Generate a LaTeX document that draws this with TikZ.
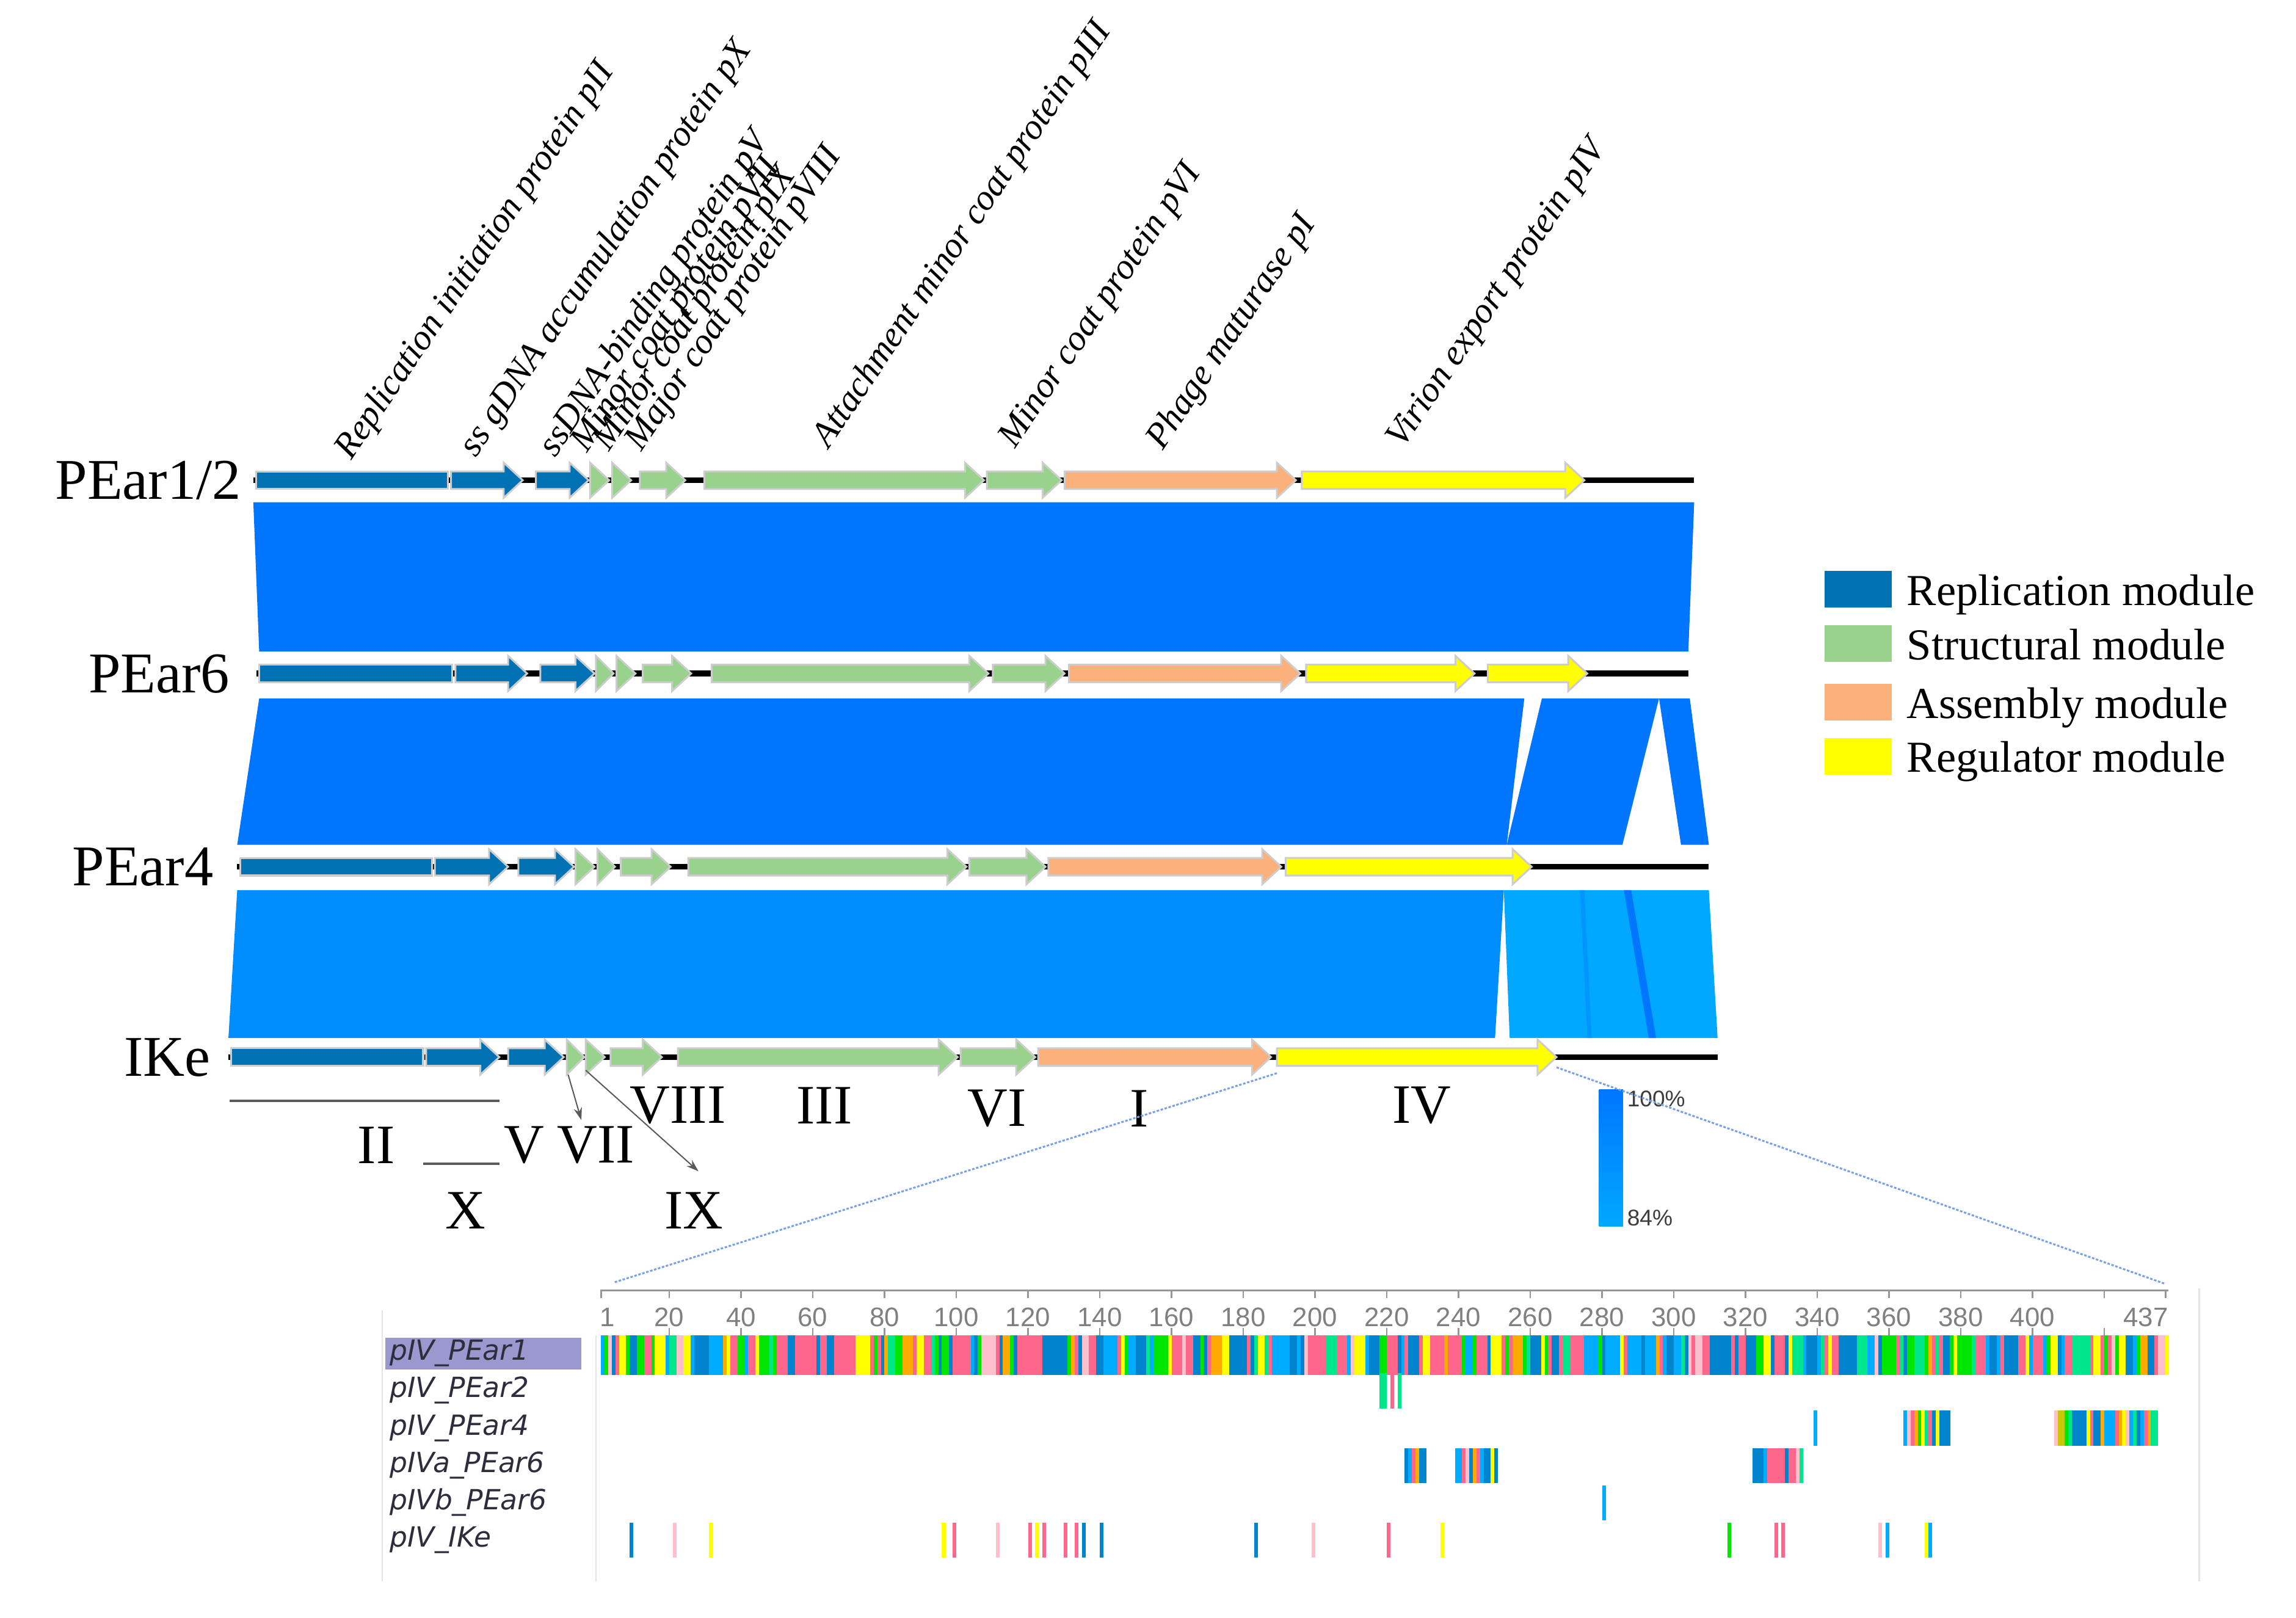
\documentclass[tikz,border=0pt]{standalone}
\usepackage{fontspec}
\setmainfont{Liberation Serif}
\newfontfamily\alnfont{DejaVu Sans}
\newfontfamily\rulerfont{Liberation Sans}
\usepackage{tikz}
\usetikzlibrary{arrows.meta}
\usepackage{xcolor}

\definecolor{rep}{RGB}{0,114,180}
\definecolor{str}{RGB}{152,210,140}
\definecolor{asm}{RGB}{252,176,124}
\definecolor{reg}{RGB}{255,255,0}
\definecolor{hit}{RGB}{0,118,255}
\definecolor{hitmid}{RGB}{0,142,255}
\definecolor{hitlow}{RGB}{0,168,255}
\definecolor{hitline}{RGB}{0,150,255}
\definecolor{aPink}{RGB}{255,102,140}
\definecolor{aCyan}{RGB}{0,172,255}
\definecolor{aBlue}{RGB}{0,132,205}
\definecolor{aGreen}{RGB}{0,230,0}
\definecolor{aYellow}{RGB}{255,255,0}
\definecolor{aOrange}{RGB}{255,170,0}
\definecolor{aRose}{RGB}{255,192,203}
\definecolor{aTeal}{RGB}{0,230,140}
\definecolor{aOlive}{RGB}{200,200,0}
\definecolor{halo}{RGB}{205,205,205}
\definecolor{inkgray}{RGB}{90,90,90}
\definecolor{labink}{RGB}{45,45,60}
\definecolor{rulergray}{RGB}{128,128,128}
\definecolor{pctink}{RGB}{60,60,60}
\definecolor{zoomblue}{RGB}{120,160,230}
\definecolor{tickgray}{RGB}{150,150,150}
\definecolor{panelgray}{RGB}{228,228,228}
\definecolor{selbox}{RGB}{154,152,207}

% gene arrow: start, end, track, colour
\newcommand{\gene}[4]{%
  \pgfmathsetmacro{\hx}{max(#1,#2-13)}%
  \filldraw[genebox,fill=#4] (#1,#3-6) -- (\hx,#3-6) -- (\hx,#3-12) -- (#2,#3)
    -- (\hx,#3+12) -- (\hx,#3+6) -- (#1,#3+6) -- cycle;}
\newcommand{\generect}[4]{\filldraw[genebox,fill=#4] (#1,#3-6) rectangle (#2,#3+6);}
% one residue of the alignment: residue, row top, colour
\newcommand{\res}[3]{\fill[#3] ({410.5+(#1-1)*2.45},#2) rectangle ++(2.55,24);}

\begin{document}
\begin{tikzpicture}[x=0.025cm,y=-0.025cm,
genebox/.style={draw=halo,line width=0.9pt},
backbone/.style={line width=2.8pt,black},
protlab/.style={rotate=56,anchor=base west,inner sep=0,font=\fontsize{17.5}{17.5}\selectfont\itshape},
genome/.style={anchor=base east,inner sep=0,font=\fontsize{28}{28}\selectfont},
roman/.style={inner sep=0,font=\fontsize{27}{27}\selectfont},
legtxt/.style={anchor=base west,inner sep=0,font=\fontsize{21.5}{22}\selectfont},
seqlab/.style={anchor=base west,inner sep=0,font=\alnfont\itshape\fontsize{13.5}{14}\selectfont,text=labink},
ruler/.style={inner sep=0,font=\rulerfont\fontsize{13}{13}\selectfont,text=rulergray},
pctlab/.style={anchor=west,inner sep=0,font=\rulerfont\fontsize{11}{11}\selectfont,text=pctink},
pointer/.style={-{Stealth[length=6pt,width=4pt]},draw=inkgray,line width=0.6pt},
bracket/.style={draw=inkgray,line width=1.2pt},
zoomline/.style={draw=zoomblue,line width=0.9pt,dash pattern=on 1.2pt off 0.8pt},
tick/.style={draw=tickgray,line width=0.8pt},
panelline/.style={draw=panelgray,line width=0.8pt}]

\useasboundingbox (0,0) rectangle (1568,1104.7);
\fill[white] (0,0) rectangle (1568,1104.7);

% protein names
\node[protlab] (t1) at (240,315) {Replication initiation protein pII};
\node[protlab] (t2) at (325,313) {ss gDNA accumulation protein pX};
\node[protlab] (t3) at (379,313) {ssDNA-binding protein pV};
\node[protlab] (t4) at (401,310) {Minor coat protein pVII};
\node[protlab] (t5) at (416,309) {Minor coat protein pIX};
\node[protlab] (t6) at (438,309) {Major coat protein pVIII};
\node[protlab] (t7) at (566,307) {Attachment minor coat protein pIII};
\node[protlab] (t8) at (693,307) {Minor coat protein pVI};
\node[protlab] (t9) at (794,308) {Phage maturase pI};
\node[protlab] (t10) at (958,307) {Virion export protein pIV};

% similarity blocks
\fill[hit] (173,343) -- (1157,343) -- (1153,445) -- (177,445) -- cycle;
\fill[hit] (177,477) -- (1041,477) -- (1029,577) -- (162,577) -- cycle;
\fill[hit] (1053,477) -- (1133,477) -- (1108,577) -- (1029,577) -- cycle;
\fill[hit] (1133,477) -- (1154,477) -- (1167,577) -- (1148,577) -- cycle;
\fill[hitmid] (162,608) -- (1027,608) -- (1021,709) -- (156,709) -- cycle;
\fill[hitlow] (1027,608) -- (1167,608) -- (1173,709) -- (1031,709) -- cycle;
\fill[hitline] (1079,608) -- (1082,608) -- (1087,709) -- (1084,709) -- cycle;
\fill[hit] (1109,608) -- (1114,608) -- (1131,709) -- (1126,709) -- cycle;

% PEar1/2
\node[genome] (g1) at (165,341) {PEar1/2};
\draw[backbone] (173,328) -- (1157,328);
\generect{175}{306}{328}{rep}
\foreach \a/\b/\c in {308/357/rep,366/402/rep,403/416/str,418/431/str,437/468/str,
  481/672/str,674/725/str,727/885/asm,889/1082/reg}
  {\gene{\a}{\b}{328}{\c}}

% PEar6
\node[genome] (g2) at (157,473) {PEar6};
\draw[backbone] (175,460) -- (1153,460);
\generect{177}{309}{460}{rep}
\foreach \a/\b/\c in {311/360/rep,369/406/rep,407/419/str,421/434/str,439/472/str,
  486/675/str,678/727/str,730/888/asm,892/1007/reg,1016/1084/reg}
  {\gene{\a}{\b}{460}{\c}}

% PEar4
\node[genome] (g3) at (146,605) {PEar4};
\draw[backbone] (162,592) -- (1167,592);
\generect{164}{295}{592}{rep}
\foreach \a/\b/\c in {297/347/rep,354/392/rep,393/406/str,408/420/str,424/458/str,
  470/660/str,662/714/str,716/875/asm,878/1046/reg}
  {\gene{\a}{\b}{592}{\c}}

% IKe
\node[genome] (g4) at (144,735) {IKe};
\draw[backbone] (156,722) -- (1173,722);
\generect{158}{289}{722}{rep}
\foreach \a/\b/\c in {291/341/rep,347/385/rep,387/399/str,400/413/str,417/452/str,
  463/654/str,656/707/str,709/868/asm,872/1063/reg}
  {\gene{\a}{\b}{722}{\c}}

% legend
\foreach \yy/\c/\t [count=\i] in {402.5/rep/Replication module,439.5/str/Structural module,
  479.5/asm/Assembly module,516.5/reg/Regulator module}{
  \fill[\c] (1246,\yy-12.5) rectangle (1292,\yy+12.5);
  \node[legtxt] (leg\i) at (1302,\yy+11) {\t};}

% gene names under IKe
\node[roman] (rII) at (257,782) {II};
\node[roman] (rX) at (318,827) {X};
\node[roman] (rV) at (358,782) {V};
\node[roman] (rVII) at (407,782) {VII};
\node[roman] (rVIII) at (463,755) {VIII};
\node[roman] (rIX) at (474,827) {IX};
\node[roman] (rIII) at (563,755) {III};
\node[roman] (rVI) at (681,757) {VI};
\node[roman] (rI) at (778,757) {I};
\node[roman] (rIV) at (971,755) {IV};
\coordinate (b1) at (157,752);
\coordinate (b2) at (341,752);
\coordinate (b3) at (289,795);
\coordinate (b4) at (341,795);
\draw[bracket] (b1) -- (b2);
\draw[bracket] (b3) -- (b4);
\coordinate (p7) at (388,734);
\coordinate (q7) at (397,765);
\coordinate (p9) at (400,731);
\coordinate (q9) at (477,800);
\draw[pointer] (p7) -- (q7);
\draw[pointer] (p9) -- (q9);

% identity scale
\shade[top color=hit,bottom color=hitlow] (1092,744) rectangle (1108.5,837.5);
\node[pctlab] (pc1) at (1111,750.5) {100\%};
\node[pctlab] (pc2) at (1111,832) {84\%};

% zoom onto pIV
\coordinate (z1) at (872,733);
\coordinate (z2) at (1063,729);
\coordinate (z3) at (419,876);
\coordinate (z4) at (1479,877);
\draw[zoomline] (z1) -- (z3);
\draw[zoomline] (z2) -- (z4);

% alignment panel
\draw[panelline] (261,895) -- (261,1080);
\draw[panelline] (407,912) -- (407,1080);
\draw[panelline] (1502,880) -- (1502,1080);
\draw[tick] (410,881.5) -- (1481,881.5);
\foreach \r in {20,40,...,420}{
  \draw[tick] ({410.5+(\r-1)*2.45},881.5) -- ++(0,5);
  \draw[tick] ({410.5+(\r-1)*2.45},907) -- ++(0,5);}
\draw[tick] (410.5,881.5) -- ++(0,5);
\draw[tick] (1479,881.5) -- ++(0,5);
\node[ruler] (n1) at (415,899.5) {1};
\foreach \r in {20,40,...,400}
  \node[ruler] (n\r) at ({410.5+(\r-1)*2.45},899.5) {\r};
\node[ruler,anchor=east] (n437) at (1481,899.5) {437};

\pgfmathsetseed{7}
\xdef\cc{aCyan}
\foreach \r in {1,...,437}{
  \pgfmathrandominteger{\k}{0}{29}
  \ifnum\k<19
    \pgfmathparse{{"aPink","aPink","aPink","aPink","aPink","aCyan","aCyan","aCyan","aBlue","aBlue","aBlue","aBlue","aGreen","aGreen","aYellow","aYellow","aOrange","aRose","aTeal"}[\k]}
    \xdef\cc{\pgfmathresult}
  \fi
  \fill[\cc] ({410.5+(\r-1)*2.45},912) rectangle ++(2.55,27);}

\foreach \r/\c in {218/aTeal,219/aTeal,221/aPink,223/aTeal}{\res{\r}{938}{\c}}
\foreach \r/\c in {339/aCyan,364/aCyan,365/aRose,366/aPink,367/aOrange,368/aGreen,369/aYellow,
  370/aTeal,371/aPink,372/aBlue,373/aYellow,374/aBlue,375/aBlue,376/aBlue,
  406/aRose,407/aOlive,408/aOlive,409/aGreen,410/aTeal,411/aBlue,412/aBlue,413/aBlue,414/aBlue,
  415/aYellow,416/aPink,417/aBlue,418/aBlue,419/aOrange,420/aCyan,421/aCyan,422/aCyan,423/aPink,
  424/aOrange,425/aYellow,426/aRose,427/aCyan,428/aTeal,429/aBlue,430/aCyan,431/aPink,
  432/aOrange,433/aTeal,434/aTeal}{\res{\r}{963.5}{\c}}
\foreach \r/\c in {225/aBlue,226/aCyan,227/aPink,228/aOrange,229/aBlue,230/aBlue,
  239/aCyan,240/aCyan,241/aPink,242/aRose,243/aBlue,244/aOrange,245/aPink,246/aCyan,
  247/aBlue,248/aBlue,249/aYellow,250/aBlue,
  322/aBlue,323/aBlue,324/aBlue,325/aCyan,326/aPink,327/aPink,328/aPink,329/aPink,330/aPink,
  331/aBlue,332/aPink,333/aPink,334/aRose,335/aTeal}{\res{\r}{989}{\c}}
\res{280}{1014.5}{aCyan}
\foreach \r/\c in {9/aBlue,21/aRose,31/aYellow,96/aYellow,99/aPink,111/aRose,120/aPink,
  122/aYellow,124/aPink,130/aPink,133/aPink,135/aBlue,140/aBlue,183/aBlue,199/aRose,
  220/aPink,235/aYellow,315/aGreen,328/aPink,330/aPink,357/aRose,359/aCyan,370/aYellow,
  371/aCyan}{\res{\r}{1040}{\c}}

\fill[selbox] (263,913.5) rectangle (397,935.5);
\foreach \t/\yy [count=\i] in {pIV\_PEar1/929,pIV\_PEar2/954.5,pIV\_PEar4/980,
  pIVa\_PEar6/1005.5,pIVb\_PEar6/1031,pIV\_IKe/1056.5}
  \node[seqlab] (s\i) at (266,\yy) {\t};
\end{tikzpicture}
\end{document}
